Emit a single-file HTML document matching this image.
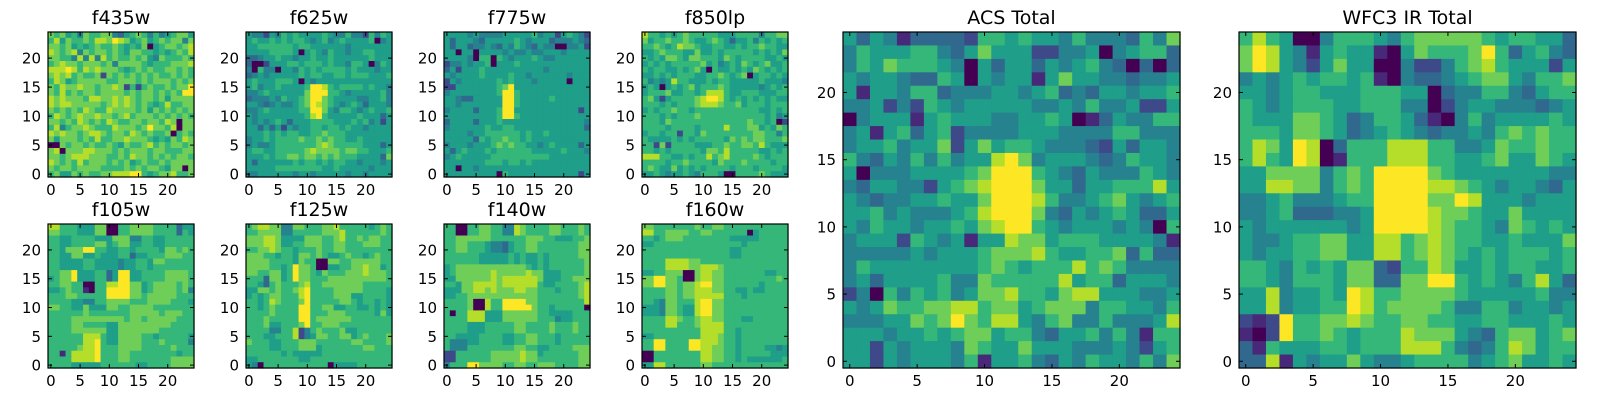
<!DOCTYPE html>
<html><head><meta charset="utf-8"><style>
html,body{margin:0;padding:0;background:#fff}
svg{display:block}
text{font-family:"DejaVu Sans","Liberation Sans",sans-serif;fill:#000}
</style></head><body>
<svg id="fig" width="1600" height="400" viewBox="0 0 1600 400" xmlns="http://www.w3.org/2000/svg"></svg>
<script>
// Pixel values (0-9 viridis levels), rows listed from top (y=24) to bottom (y=0)
const f435w=["7675647667743567646456775","6857667688798756756767747","7767565676676565705677678","8767847677676577665656768","7766484848676676754766676","6787767776747777656667778","8889868787776567676677676","7878676672767676767667676","6875677777667776767776767","7687787767787262676676779","7686767767777676776767699","8787776887787876776757777","8788777776787876765686677","7676768766877776757676767","6876787787767867776767676","7767687676876677677687077","6846778766687776797768077","8787767887677687676670676","7577767686677877765657687","0076776766765766786767767","7807778877767677767766677","7767888777667687767676776","8767686777676756766767777","7677677776666767677657707","6755767667788899656778667"];
const f625w=["5442546565555654464426465","5655656566545645655556045","5566666656655555545555555","5555666650565465545566555","3345565545565565555556555","3002555665666565546650465","4064405546565666656555455","3454555556566556656665556","5655566650545555555555555","5645565555699865666656554","4456555555799966545555564","3444546556799765555445564","5543454456798765456535554","4456555556699754665456556","5455555555689655555655535","5454565355566665556564525","5535352545566566565545555","5556565665566766655555555","4556566667667676655655555","4544566666667876666655535","5665566666787777677665556","5556566776776767666555537","5355555565665656655455545","5555566666666556555554555","4455555545545555545545555"];
const f775w=["5555454444555556455256542","5355543555556545553444543","5355344543546543544004452","5505505555454454455545555","5555406606545556544555555","2445455605556555555555555","3525556555555555545555555","5455556555565545555554555","2545555556565554555550555","2255555556795555555555555","4555555556996555555555555","5543355555996555556555555","5545555555996555555555555","4555535556995555555555525","5555555556996555555555555","3555535556555555555555554","4555555655665555555555553","5555455666666565565555555","5555536566766565555555555","4555455567676655456555535","5356555656666665555565554","4565555566666666665555555","5555555666566565555555555","5505545555555555555555555","5555555550655555555555525"];
const f850lp=["8665656766666555666646677","7566766765567653556465656","6676568776556655656676655","5567666557556566666565657","6565776577666576566665565","5656566666756456576567556","6566556567506556565765656","5565656665566765670566565","6454586655565665555565554","5650565675666765555545656","5666755665688865566655566","6752566667899865656565655","6665656667888766756665666","5656676656666666666655656","6665656667666666666665645","6665766666666666667665602","6666566665666686667756576","5665662665766666666776646","6555565656666657676776667","6627266665556676677686555","6656566666577686666655656","8886655656686786666765666","6666566766665766676666566","6765575656566665666566665","5565455654666500666676555"];
const f105w=["8866655577006677776666355","7766655577006677776666365","6655666655577744665566666","6655666677567755665566666","6657779966556656666577676","6655775565556635566677766","6655556655554556657766666","6655556655554556656666666","6677955566359955666677776","5677955566359955666677776","6677660066889977567777676","5567661066999977567777674","6667766666999977677777666","6666554466777766677776665","7766557555776677776666666","6666667666666677777677766","6666777777777677677777666","6666776666557777777776666","6666777777557777777666666","6666668886557777665666665","6666668896557777666766664","6666678896667777666667666","6616888896667766666666566","6666888896667766666667777","6666555556666665566667777"];
const f125w=["6788774477666778666665676","6677774466666777866666676","7778875555777667866767766","7778875566777667766677766","6677876656667667766666666","7776656657767655676656766","7777666657660077667777766","7777665697760055667787756","7766775697765766677787776","6663775697766677777777776","6653676667866777777766666","5577676678966667777766665","5656776668966667775566665","6656876667966666776566565","6656766669966775566556565","6666766669966677766666575","6667666669967777776666666","6667556667966777666666666","6666446682467666755666666","6665566682457766775676667","7666556667776666667766667","6666556667775666666677666","6666665655555666666666666","5566666665566666666666666","5406666666666605555666666"];
const f140w=["6600667766448766667766676","6600667766448766667766676","6677777766666677766555667","6677666544356677666666677","6677666544356677666666677","6666665555565655656666677","6666665555565655656666667","5677777777777765656666667","5677777787777787755566667","5577777787888888755566777","6657788887888888655666678","5557788787778877666566678","5566777777777777666666678","6666700866999977666666668","6666700866999997665666660","6066888555777777665555666","6666888555777777666455666","6666555666667766667666766","6666555666667766667666766","6655556666556677666566666","6444556666556677666566666","6444666666667766556666777","2266666677777877566666677","2266666677777877666666677","4666997777667766777666677"];
const f160w=["7766666667667766666666666","8866777766776666660566666","6656777666666665555566666","5566666666666666656666666","6666666666666665566666666","6666666666666665566666666","6666888877666666666666666","6666888877888766666666666","5566777007887766666665566","7799776007887766666666676","7799776778997766666656666","6666776778887766556556666","6666776778888866656666666","6654776668997766666666666","5554776558997766666666666","5554776558997766666666666","6666887667887766655666666","6666886667888866666666666","6666666666888866566666666","5566666666888766566666666","6699666699888766566666666","6699666699887766566665545","0066666666887766566666555","0066666666887766565555556","5588666666776666666666666"];
const acsTotal=["5354133332665655464443647","4655566435755522445045663","4657666540535535456430303","5455433650545515755443445","5155466344455456343554556","4452426545555544546445225","0455515655544556501354466","4515635624444555444466444","4556455725756654443253554","6435464645589745554346554","5044455556799965435444654","4355442567899975535566685","5434455655799986445675456","5564544456899974354565335","5465545565789965455545406","4555265451558775666555541","4444454555677786556673633","4655555555676566686764444","4535555644766666856635554","2406465645778665788555445","5457667788677567774665546","4445576797688546744644458","5554556567756643556464166","5525455547655755544454256","5525455546155643546554647"];
const wfc3Total=["6865004666546777776566553","7985415655105766679635643","7985425755004224678655525","4545656656104334567754667","5545665556665503446643566","6545666556664402455444345","6555776534665310464555565","6665776534565434454676766","6875980366688866445766766","6865980166688866556755765","5577774676999976555555544","5588774676999988765455435","4456444566999977985554555","4456333445999987765575555","5455555545999987665476565","5445667755886787665565557","5455667755886787656566656","6654656577326687556566556","6654666577337799656546853","5584556598667777655555644","5584556698677776446645545","2129667787667766556655565","1029667656668777543677567","3165556656668886434687566","3381545575445666645675565"];
const panelNames=["f435w","f625w","f775w","f850lp","f105w","f125w","f140w","f160w","ACS Total","WFC3 IR Total"];
const tickVals=[0,5,10,15,20];

const VIR=["#440154","#482878","#3e4989","#31688e","#26828e","#1f9e89","#35b779","#6ece58","#b5de2b","#fde725"];
function color(v){return VIR[Math.max(0,Math.min(9,v))];}
const NS="http://www.w3.org/2000/svg";
const svg=document.getElementById('fig');
function mk(tag,attrs,parent){const e=document.createElementNS(NS,tag);for(const k in attrs)e.setAttribute(k,attrs[k]);(parent||svg).appendChild(e);return e;}

const grids=[f435w,f625w,f775w,f850lp,f105w,f125w,f140w,f160w,acsTotal,wfc3Total];
const boxes=[[48,32,146,145],[246,32,146,145],[444,32,146,145],[642,32,146,145],
[48,224,146,144],[246,224,146,144],[444,224,146,144],[642,224,146,144],
[843,32,337,336],[1239,32,337,336]];

grids.forEach((g,pi)=>{
  const [x0,y0,w,h]=boxes[pi];
  const grp=mk('g',{});
  
  
  const sx=v=>x0+(v+0.5)/25*w;
  const sy=v=>y0+h-(v+0.5)/25*h;
  const cw=w/25,ch=h/25;
  for(let r=0;r<25;r++){
    const row=g[r];const yv=24-r;
    for(let c=0;c<25;c++){
      const v=parseInt(row[c]||'5');
      const rc=mk('rect',{x:(sx(c)-cw/2).toFixed(2),y:(sy(yv)-ch/2).toFixed(2),width:(cw+0.6).toFixed(2),height:(ch+0.6).toFixed(2),fill:color(v)},grp);
      
      
    }
  }
  const frame=mk('rect',{x:x0,y:y0,width:w,height:h,fill:'none',stroke:'#000','stroke-width':1.2},grp);
  
  
  tickVals.forEach(t=>{
    const px=sx(t),py=sy(t);
    mk('line',{x1:px,y1:y0+h,x2:px,y2:y0+h-4,stroke:'#000','stroke-width':1},grp);
    mk('line',{x1:px,y1:y0,x2:px,y2:y0+4,stroke:'#000','stroke-width':1},grp);
    mk('line',{x1:x0,y1:py,x2:x0+4,y2:py,stroke:'#000','stroke-width':1},grp);
    mk('line',{x1:x0+w,y1:py,x2:x0+w-4,y2:py,stroke:'#000','stroke-width':1},grp);
    const xl=mk('text',{x:px,y:y0+h+18,'font-size':15,'text-anchor':'middle'},grp);
    xl.textContent=t;
    
    
    const yl=mk('text',{x:x0-7,y:py+5.5,'font-size':15,'text-anchor':'end'},grp);
    yl.textContent=t;
    
    
  });
  const tt=mk('text',{x:x0+w/2,y:y0-8,'font-size':19,'text-anchor':'middle'},grp);
  tt.textContent=panelNames[pi];
  
  
});
</script>
</body></html>
